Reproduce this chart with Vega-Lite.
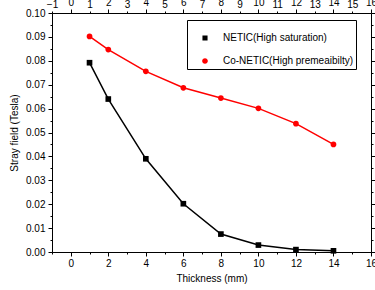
{
  "$schema": "https://vega.github.io/schema/vega-lite/v6.json",
  "width": 319,
  "height": 239,
  "autosize": {"type": "none"},
  "padding": {"left": 52, "top": 13, "right": 4, "bottom": 38},
  "background": "white",
  "config": {
    "font": "Liberation Sans",
    "view": {"stroke": "black", "strokeWidth": 1},
    "axis": {"grid": false, "domainColor": "black", "tickColor": "black", "labelColor": "black", "titleColor": "black", "labelFont": "Liberation Sans", "titleFont": "Liberation Sans", "labelFontSize": 10, "titleFontSize": 10, "titleFontWeight": "normal", "labelOverlap": false, "labelBound": false, "labelFlush": false}
  },
  "data": {
    "values": [
      {"t": 1, "b": 0.0792, "s": "NETIC(High saturation)"},
      {"t": 2, "b": 0.064, "s": "NETIC(High saturation)"},
      {"t": 4, "b": 0.039, "s": "NETIC(High saturation)"},
      {"t": 6, "b": 0.0202, "s": "NETIC(High saturation)"},
      {"t": 8, "b": 0.0075, "s": "NETIC(High saturation)"},
      {"t": 10, "b": 0.0029, "s": "NETIC(High saturation)"},
      {"t": 12, "b": 0.001, "s": "NETIC(High saturation)"},
      {"t": 14, "b": 0.0005, "s": "NETIC(High saturation)"},
      {"t": 1, "b": 0.0902, "s": "Co-NETIC(High premeaibilty)"},
      {"t": 2, "b": 0.0847, "s": "Co-NETIC(High premeaibilty)"},
      {"t": 4, "b": 0.0756, "s": "Co-NETIC(High premeaibilty)"},
      {"t": 6, "b": 0.0687, "s": "Co-NETIC(High premeaibilty)"},
      {"t": 8, "b": 0.0644, "s": "Co-NETIC(High premeaibilty)"},
      {"t": 10, "b": 0.0601, "s": "Co-NETIC(High premeaibilty)"},
      {"t": 12, "b": 0.0537, "s": "Co-NETIC(High premeaibilty)"},
      {"t": 14, "b": 0.045, "s": "Co-NETIC(High premeaibilty)"}
    ]
  },
  "resolve": {"axis": {"x": "independent", "y": "independent"}, "scale": {"color": "independent", "shape": "independent"}},
  "layer": [
    {
      "mark": {"type": "line", "strokeWidth": 1.5},
      "encoding": {
        "x": {"field": "t", "type": "quantitative", "scale": {"domain": [-1, 16], "nice": false, "zero": false},
          "axis": {"orient": "bottom", "title": "Thickness (mm)", "values": [-1, 0, 1, 2, 3, 4, 5, 6, 7, 8, 9, 10, 11, 12, 13, 14, 15, 16],
            "labelExpr": "datum.value % 2 == 0 ? datum.label : ''",
            "tickSize": {"condition": {"test": "datum.value % 2 == 0", "value": 4}, "value": 2},
            "labelPadding": 2, "titlePadding": 5}},
        "y": {"field": "b", "type": "quantitative", "scale": {"domain": [0, 0.1], "nice": false},
          "axis": {"orient": "left", "title": "Stray field (Tesla)", "values": [0, 0.005, 0.01, 0.015, 0.02, 0.025, 0.03, 0.035, 0.04, 0.045, 0.05, 0.055, 0.06, 0.065, 0.07, 0.075, 0.08, 0.085, 0.09, 0.095, 0.1],
            "labelExpr": "round(datum.value * 1000) % 10 == 0 ? format(datum.value, '.2f') : ''",
            "tickSize": {"condition": {"test": "round(datum.value * 1000) % 10 == 0", "value": 4}, "value": 2},
            "labelPadding": 3, "titlePadding": 6}},
        "color": {"field": "s", "type": "nominal", "scale": {"domain": ["NETIC(High saturation)", "Co-NETIC(High premeaibilty)"], "range": ["#000000", "#ff0000"]}, "legend": null}
      }
    },
    {
      "mark": {"type": "point", "filled": true, "opacity": 1, "size": 32},
      "encoding": {
        "x": {"field": "t", "type": "quantitative",
          "axis": {"orient": "top", "title": "TOP", "labels": true, "domain": false, "values": [-1, 0, 1, 2, 3, 4, 5, 6, 7, 8, 9, 10, 11, 12, 13, 14, 15, 16],
            "tickSize": {"condition": {"test": "datum.value % 2 == 0", "value": 4}, "value": 2}}},
        "y": {"field": "b", "type": "quantitative",
          "axis": {"orient": "right", "title": null, "labels": false, "domain": false, "values": [0, 0.005, 0.01, 0.015, 0.02, 0.025, 0.03, 0.035, 0.04, 0.045, 0.05, 0.055, 0.06, 0.065, 0.07, 0.075, 0.08, 0.085, 0.09, 0.095, 0.1],
            "tickSize": {"condition": {"test": "round(datum.value * 1000) % 10 == 0", "value": 4}, "value": 2}}},
        "color": {"field": "s", "type": "nominal", "scale": {"domain": ["NETIC(High saturation)", "Co-NETIC(High premeaibilty)"], "range": ["#000000", "#ff0000"]}, "legend": null},
        "shape": {"field": "s", "type": "nominal", "scale": {"domain": ["NETIC(High saturation)", "Co-NETIC(High premeaibilty)"], "range": ["square", "circle"]}, "legend": null}
      }
    },
    {
      "mark": {"type": "point", "filled": true, "opacity": 0, "size": 0},
      "encoding": {
        "x": {"field": "t", "type": "quantitative", "axis": null},
        "y": {"field": "b", "type": "quantitative", "axis": null},
        "color": {"field": "s", "type": "nominal", "scale": {"domain": ["NETIC(High saturation)", "Co-NETIC(High premeaibilty)"], "range": ["#000000", "#ff0000"]},
          "legend": {"title": null, "orient": "none", "legendX": 135, "legendY": 7, "strokeColor": "black", "padding": 2, "labelFontSize": 10, "labelFont": "Liberation Sans", "labelColor": "black", "symbolSize": 900, "symbolStrokeWidth": 1.5, "labelOffset": 2, "rowPadding": 1, "symbolOpacity": 1}},
        "shape": {"field": "s", "type": "nominal", "scale": {"domain": ["NETIC(High saturation)", "Co-NETIC(High premeaibilty)"], "range": ["M-1,0H1M-0.17,-0.17H0.17V0.17H-0.17Z", "M-1,0H1M0.19,0A0.19,0.19 0 1,1 -0.19,0A0.19,0.19 0 1,1 0.19,0Z"]},
          "legend": {"title": null, "orient": "none", "legendX": 135, "legendY": 7, "strokeColor": "black", "padding": 2, "labelFontSize": 10, "labelFont": "Liberation Sans", "labelColor": "black", "symbolSize": 900, "symbolStrokeWidth": 1.5, "labelOffset": 2, "rowPadding": 1, "symbolOpacity": 1}}
      }
    }
  ]
}
